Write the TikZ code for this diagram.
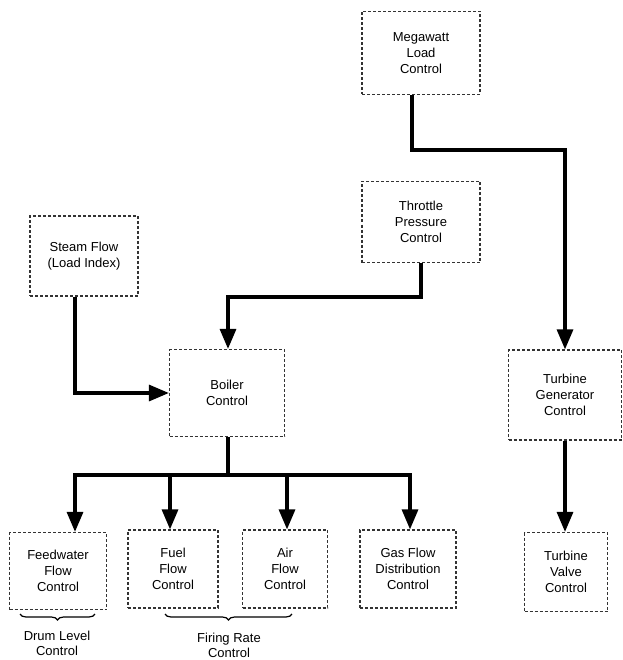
\documentclass[tikz,border=0pt]{standalone}
\usepackage{fontspec}
\setmainfont{Liberation Sans}
\usetikzlibrary{arrows.meta,decorations.pathreplacing}
\begin{document}
\begin{tikzpicture}[x=1pt,y=-1pt,
  box/.style={draw=black!80,densely dashed,line width=1.2pt,align=center,font=\fontsize{13}{16}\selectfont,inner sep=0pt},
  conn/.style={line width=3.2pt,-{Triangle[length=20pt,width=16pt]}},
  lbl/.style={align=center,font=\fontsize{13}{15}\selectfont},
  br/.style={decorate,decoration={brace,mirror,amplitude=6pt},line width=1.2pt}]
\useasboundingbox (0,0) rectangle (622,660);
\node[box,minimum width=118,minimum height=83] (mw) at (421,53) {Megawatt\\Load\\Control};
\node[box,minimum width=118,minimum height=81] (tp) at (421,222) {Throttle\\Pressure\\Control};
\node[box,minimum width=108,minimum height=80] (sf) at (84,256) {Steam Flow\\(Load Index)};
\node[box,minimum width=115,minimum height=87] (bc) at (227,393) {Boiler\\Control};
\node[box,minimum width=113,minimum height=90] (tg) at (565,395) {Turbine\\Generator\\Control};
\node[box,minimum width=97,minimum height=77] (fw) at (58,571) {Feedwater\\Flow\\Control};
\node[box,minimum width=90,minimum height=78] (ff) at (173,569) {Fuel\\Flow\\Control};
\node[box,minimum width=85,minimum height=78] (af) at (285,569) {Air\\Flow\\Control};
\node[box,minimum width=96,minimum height=78] (gf) at (408,569) {Gas Flow\\Distribution\\Control};
\node[box,minimum width=83,minimum height=79] (tv) at (566,572) {Turbine\\Valve\\Control};
\coordinate (j1) at (412,150);
\coordinate (j2) at (228,297);
\coordinate (j3) at (75,383);
\coordinate (bus) at (228,475);
\draw[conn] (mw.south -| j1) |- (j1) -| (tg.north);
\draw[conn] (tp.south) |- (j2) -- (bc.north -| j2);
\draw[conn] (sf.south -| j3) |- (bc.west);
\draw[line width=3.2pt] (bc.south -| bus) -- (bus);
\draw[line width=3.2pt,line cap=rect] (75,475) -- (410,475);
\draw[conn] (75,475) -- (fw.north -| 75,0);
\draw[conn] (170,475) -- (ff.north -| 170,0);
\draw[conn] (287,475) -- (af.north -| 287,0);
\draw[conn] (410,475) -- (gf.north -| 410,0);
\draw[conn] (tg.south) -- (tv.north -| tg.south);
\draw[br] (20,614) -- (95,614);
\draw[br] (165,614) -- (292,614);
\node[lbl] (dl) at (57,643) {Drum Level\\Control};
\node[lbl] (fr) at (229,645) {Firing Rate\\Control};
\end{tikzpicture}
\end{document}
